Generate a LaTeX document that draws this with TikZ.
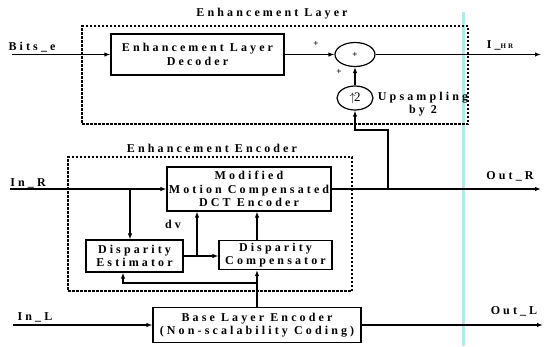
\documentclass[tikz,border=0pt]{standalone}
\usepackage{fontspec}
\setmainfont{Liberation Serif}
\newfontfamily\dfont[LetterSpace=26]{Liberation Serif}
\usetikzlibrary{arrows.meta,shapes.geometric,calc}
\definecolor{scancyan}{RGB}{175,235,235}
\begin{document}
\begin{tikzpicture}[x=1pt,y=-1pt,
  every node/.style={font=\dfont\fontsize{12}{13.5}\selectfont\bfseries},
  blk/.style={draw,line width=1.2pt,rectangle,align=center,inner sep=0pt},
  dbox/.style={draw,line width=1.1pt,dash pattern=on 2.5pt off 1.5pt,rectangle,inner sep=0pt},
  ell/.style={draw,line width=1.2pt,ellipse,inner sep=0pt},
  lbl/.style={inner sep=0pt,align=center},
  arr/.style={line width=1.2pt,-{Latex[length=6pt,width=4.5pt]}},
  ln/.style={line width=1.2pt}]
\useasboundingbox (0,0) rectangle (544,346);
% scan artifact line
\draw[scancyan,line width=3pt] (463,12) -- (463,346);
% Enhancement layer
\node[dbox,minimum width=386pt,minimum height=98pt] (EL) at (275,75) {};
\node[lbl] (ELt) at (272,14) {Enhancement Layer};
\node[blk,minimum width=173pt,minimum height=41pt] (dec) at (197.5,54.5) {Enhancement Layer\\Decoder};
\node[lbl] (bits) at (32,47) {Bits\_e};
\coordinate (bitsin) at (12,54.5);
\draw[arr] (bitsin) -- (dec.west);
\node[ell,minimum width=40pt,minimum height=24pt,font=\dfont\fontsize{9}{10}\selectfont\bfseries] (add) at (355,54.5) {+};
\draw[arr] (dec.east) -- (add.west);
\node[lbl,font=\dfont\fontsize{9}{10}\selectfont\bfseries] (p1) at (316,44) {+};
\node[lbl,font=\dfont\fontsize{9}{10}\selectfont\bfseries] (p2) at (339,72) {+};
\node[ell,minimum width=36pt,minimum height=24pt,font=\fontsize{13}{14}\selectfont] (up) at (355,98) {$\uparrow$\kern-1.5pt2};
\draw[arr] (up.north) -- (add.south);
\node[lbl] (upl) at (423,104) {Upsampling\\by 2};
\coordinate (ihr) at (541,54.5);
\draw[arr] (add.east) -- (ihr);
\node[lbl] (ihrl) at (500,45) {I\_{\fontsize{7}{8}\selectfont HR}};
% Enhancement encoder
\node[dbox,minimum width=284pt,minimum height=134pt] (EE) at (210,224) {};
\node[lbl] (EEt) at (212,148) {Enhancement Encoder};
\node[blk,minimum width=164pt,minimum height=44pt] (mc) at (249,189) {Modified\\Motion Compensated\\DCT Encoder};
\node[lbl] (inr) at (28,183) {In\_R};
\coordinate (inrs) at (10,189);
\draw[arr] (inrs) -- (mc.west);
\node[blk,minimum width=97pt,minimum height=32pt] (est) at (134.5,256) {Disparity\\Estimator};
\node[blk,minimum width=113pt,minimum height=29pt] (comp) at (275.5,255) {Disparity\\Compensator};
\coordinate (b1) at (130,189);
\draw[arr] (b1) -- (b1 |- est.north);
\draw[arr] (est.east) -- (est.east -| comp.west);
\coordinate (dvb) at (197,256);
\draw[arr] (dvb) -- (dvb |- mc.south);
\node[lbl] (dv) at (173,224) {dv};
% base layer
\node[blk,minimum width=208pt,minimum height=35pt] (base) at (257,325) {Base Layer Encoder\\(Non-scalability Coding)};
\draw[arr] (base.north |- comp.north) -- (base.north |- mc.south);
\draw[arr] (base.north) -- (base.north |- comp.south);
\coordinate (fb) at (257,283);
\draw[arr] (fb) -| ($(est.south)+(-11.5,0)$);
\node[lbl] (inl) at (35,317) {In\_L};
\coordinate (inls) at (13,325);
\draw[arr] (inls) -- (base.west);
\coordinate (outl) at (543,325);
\draw[arr] (base.east) -- (outl);
\node[lbl] (outll) at (514,311) {Out\_L};
\coordinate (outr) at (541,189);
\draw[arr] (mc.east) -- (outr);
\node[lbl] (outrl) at (510,176) {Out\_R};
% feedback to upsampler
\coordinate (J) at (388,189);
\coordinate (K) at (355,130);
\draw[arr] (J) |- (K) -- (up.south);
\end{tikzpicture}
\end{document}
